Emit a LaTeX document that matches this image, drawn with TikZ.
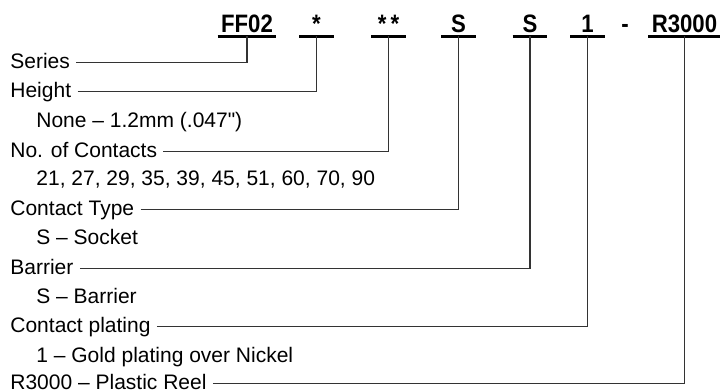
\documentclass[tikz,border=0pt]{standalone}
\usepackage{fontspec}
\setmainfont{Liberation Sans}
\newfontfamily\codefont[FakeStretch=0.88]{Liberation Sans}
\newfontfamily\inchfont{Liberation Sans}

\begin{document}
\begin{tikzpicture}[x=0.5pt, y=-0.5pt,
    code/.style={font=\codefont\bfseries\fontsize{12.6}{14}\selectfont, anchor=base,
        inner xsep=1.5pt, inner ysep=2pt, text depth=0pt, minimum width=17pt},
    field/.style={font=\fontsize{10.5}{12}\selectfont, anchor=base west, inner sep=3pt},
    option/.style={field},
    underline/.style={line width=1.2pt},
    leader/.style={line width=0.6pt, black!80}]
    % Khung hình
    \useasboundingbox (0,0) rectangle (720,392);

    % Mã sản phẩm ở hàng trên
    \node[code] (ff) at (247,32) {FF02};
    \node[code] (ht) at (316.5,32) {*};
    \node[code] (nc) at (388.5,32) {*\,*};
    \node[code] (ct) at (458.5,32) {S};
    \node[code] (br) at (530,32) {S};
    \node[code] (pl) at (587.5,32) {1};
    \node[code, minimum width=0pt] (dash) at (625,32) {-};
    \node[code] (pk) at (684.5,32) {R3000};

    % Gạch dưới các mã
    \foreach \n in {ff,ht,nc,ct,br,pl,pk}
        \draw[underline] (\n.south west) -- (\n.south east);

    % Các mục bên trái
    \node[field] (series) at (4,68) {Series};
    \node[field] (height) at (4,97) {Height};
    \node[option] (hopt) at (30,127) {None -- 1.2mm (.047{\inchfont"})};
    \node[field] (contacts) at (4,157) {No. of Contacts};
    \node[option] (copt) at (30,185) {21, 27, 29, 35, 39, 45, 51, 60, 70, 90};
    \node[field] (type) at (4,215) {Contact Type};
    \node[option] (topt) at (30,244) {S -- Socket};
    \node[field] (barrier) at (4,274) {Barrier};
    \node[option] (bopt) at (30,303) {S -- Barrier};
    \node[field] (plating) at (4,332) {Contact plating};
    \node[option] (popt) at (30,362) {1 -- Gold plating over Nickel};
    \node[field] (reel) at (4,389) {R3000 -- Plastic Reel};

    % Đường nối từ mục đến mã
    \draw[leader] (series.mid east) -| (ff.south);
    \draw[leader] (height.mid east) -| (ht.south);
    \draw[leader] (contacts.mid east) -| (nc.south);
    \draw[leader] (type.mid east) -| (ct.south);
    \draw[leader] (barrier.mid east) -| (br.south);
    \draw[leader] (plating.mid east) -| (pl.south);
    \draw[leader] (reel.mid east) -| (pk.south);

\end{tikzpicture}
\end{document}
